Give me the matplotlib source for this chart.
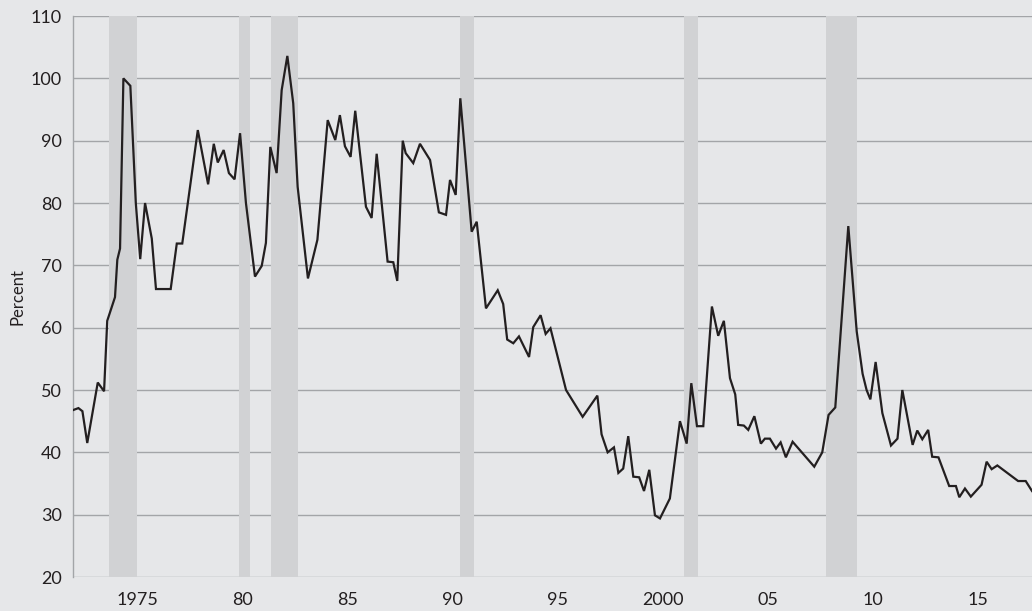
import matplotlib
matplotlib.use('Agg')
import matplotlib.pyplot as plt

plt.rcParams['font.family'] = ['Lato', 'DejaVu Sans']

# data (decimal year, percent)
years = [1972.12, 1972.36, 1972.55, 1972.78, 1973.28, 1973.58, 1973.73, 1974.10, 1974.21, 1974.34,
         1974.50, 1974.83, 1975.09, 1975.30, 1975.53, 1975.85, 1976.05, 1976.75, 1977.04, 1977.30,
         1978.04, 1978.53, 1978.80, 1978.99, 1979.27, 1979.52, 1979.79, 1980.05, 1980.33, 1980.76,
         1981.08, 1981.28, 1981.49, 1981.79, 1982.03, 1982.30, 1982.58, 1982.79, 1983.28, 1983.73,
         1984.22, 1984.58, 1984.80, 1985.04, 1985.31, 1985.53, 1986.04, 1986.31, 1986.55, 1987.07,
         1987.34, 1987.53, 1987.79, 1987.93, 1988.29, 1988.61, 1989.09, 1989.51, 1989.85, 1990.04,
         1990.31, 1990.53, 1991.07, 1991.31, 1991.75, 1992.31, 1992.57, 1992.76, 1993.05, 1993.32,
         1993.80, 1994.00, 1994.35, 1994.59, 1994.82, 1995.56, 1996.35, 1997.05, 1997.25, 1997.54,
         1997.84, 1998.05, 1998.28, 1998.52, 1998.76, 1999.04, 1999.27, 1999.52, 1999.79, 2000.03,
         2000.50, 2000.98, 2001.30, 2001.52, 2001.79, 2002.09, 2002.50, 2002.80, 2003.07, 2003.36,
         2003.61, 2003.75, 2004.02, 2004.23, 2004.52, 2004.83, 2005.02, 2005.26, 2005.55, 2005.77,
         2006.02, 2006.34, 2007.37, 2007.75, 2008.05, 2008.37, 2008.99, 2009.39, 2009.67, 2009.86,
         2010.04, 2010.29, 2010.61, 2011.02, 2011.33, 2011.56, 2012.05, 2012.27, 2012.51, 2012.79,
         2012.98, 2013.28, 2013.79, 2014.11, 2014.27, 2014.54, 2014.82, 2015.33, 2015.57, 2015.81,
         2016.08, 2017.07, 2017.43, 2017.73]
values = [46.8, 47.1, 46.6, 41.5, 51.2, 49.8, 61.1, 64.9, 70.9, 72.7,
          100.0, 98.8, 80.0, 71.0, 80.0, 74.3, 66.2, 66.2, 73.5, 73.5,
          91.7, 83.0, 89.5, 86.5, 88.5, 84.8, 83.8, 91.2, 80.0, 68.2,
          69.9, 73.6, 89.0, 84.8, 98.1, 103.6, 96.0, 82.6, 67.9, 74.1,
          93.3, 90.1, 94.1, 89.1, 87.4, 94.8, 79.4, 77.6, 87.9, 70.6,
          70.5, 67.5, 90.0, 88.0, 86.4, 89.5, 86.9, 78.5, 78.1, 83.7,
          81.3, 96.8, 75.4, 77.0, 63.1, 66.0, 63.8, 58.1, 57.5, 58.6,
          55.3, 60.1, 62.0, 59.0, 59.9, 50.0, 45.7, 49.1, 42.9, 40.0,
          40.8, 36.7, 37.4, 42.6, 36.1, 36.0, 33.8, 37.2, 29.9, 29.4,
          32.6, 45.0, 41.4, 51.1, 44.2, 44.2, 63.4, 58.7, 61.1, 51.9,
          49.3, 44.4, 44.3, 43.6, 45.8, 41.4, 42.2, 42.2, 40.6, 41.6,
          39.2, 41.7, 37.7, 40.0, 46.0, 47.2, 76.3, 59.4, 52.6, 50.0,
          48.5, 54.5, 46.3, 41.1, 42.2, 50.0, 41.2, 43.5, 42.1, 43.6,
          39.3, 39.2, 34.6, 34.6, 32.8, 34.2, 32.9, 34.8, 38.5, 37.3,
          37.9, 35.4, 35.4, 33.8]

# recessions (start, end)
recessions = [(1973.83, 1975.17), (1980.0, 1980.5), (1981.5, 1982.83),
              (1990.5, 1991.17), (2001.17, 2001.83), (2007.92, 2009.42)]

tick_years = [1975, 1980, 1985, 1990, 1995, 2000, 2005, 2010, 2015]
tick_labels = ['1975', '80', '85', '90', '95', '2000', '05', '10', '15']
y_ticks = [20, 30, 40, 50, 60, 70, 80, 90, 100, 110]

bg = '#e6e7e9'
fig = plt.figure(figsize=(10.32, 6.11), dpi=100, facecolor=bg)
ax = fig.add_axes([0.0707, 0.0556, 0.9293, 0.9182])
ax.set_facecolor(bg)

for y in y_ticks:
    ax.axhline(y, color='#a3a5a8', lw=1.0, zorder=1)

for start, end in recessions:
    ax.axvspan(start, end, color='#d1d2d4', lw=0, zorder=2)

ax.plot(years, values, color='#231f20', lw=1.6, zorder=3, solid_joinstyle='miter')

ax.set_xlim(1972.1, 2017.73)
ax.set_ylim(20, 110)
ax.set_yticks(y_ticks)
# labels sit slightly right of the year start in the original
ax.set_xticks([t + 0.15 for t in tick_years])
ax.set_xticklabels(tick_labels)
ax.tick_params(axis='both', length=0, labelsize=13, colors='#231f20')
ax.tick_params(axis='y', pad=8)
ax.tick_params(axis='x', pad=11)
ax.set_ylabel('Percent', fontsize=12, color='#231f20')
ax.yaxis.set_label_coords(-0.05, 0.5)

for side in ['top', 'right', 'bottom']:
    ax.spines[side].set_visible(False)
ax.spines['left'].set_color('#a3a5a8')
ax.spines['left'].set_linewidth(1.0)

fig.savefig('out.png', dpi=100, facecolor=bg)
